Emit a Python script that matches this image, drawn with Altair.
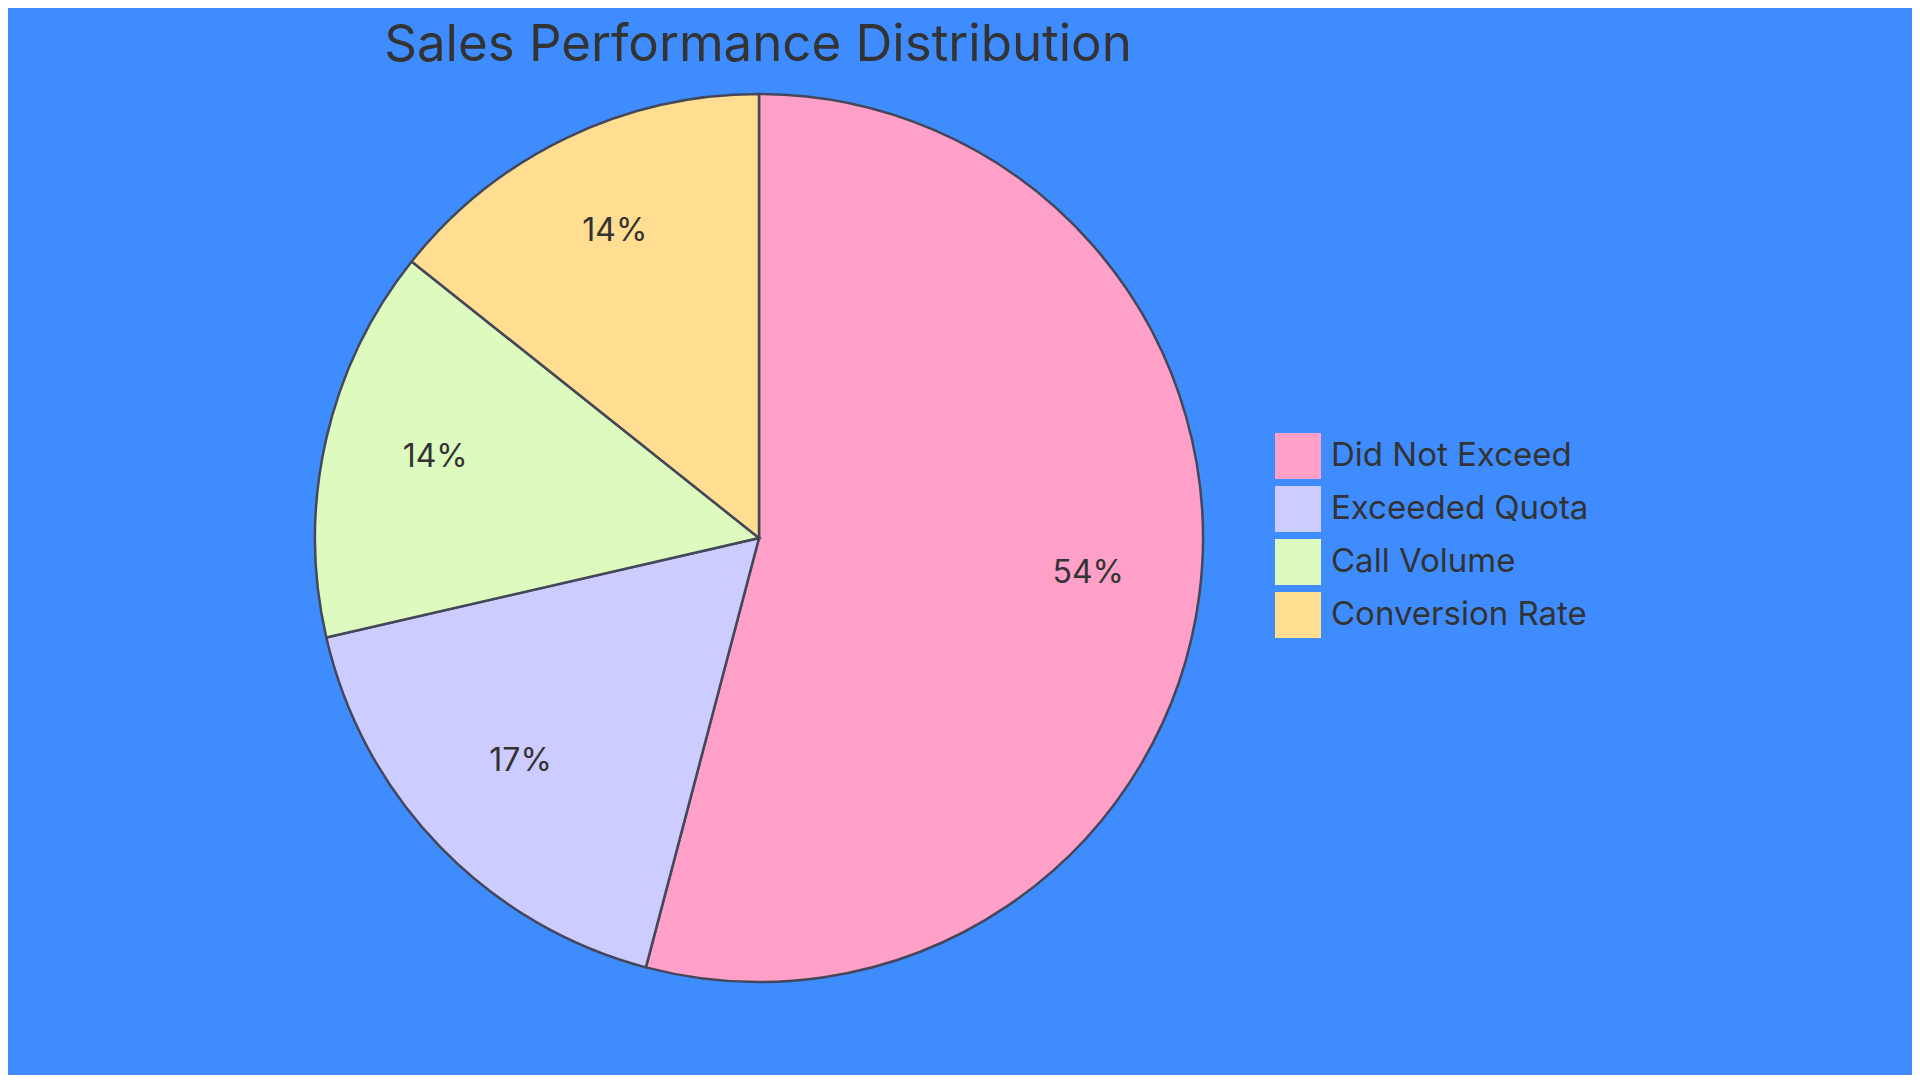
import altair as alt
import pandas as pd

# Slice data, in drawing order (clockwise from 12 o'clock)
categories = ["Did Not Exceed", "Exceeded Quota", "Call Volume", "Conversion Rate"]
values = [54.1, 17.3, 14.3, 14.3]
labels = ["54%", "17%", "14%", "14%"]
colors = ["#FFA0C8", "#CCCCFF", "#DDFBBE", "#FFDE92"]
title = "Sales Performance Distribution"

BG = "#3F8CFF"
INK = "#333333"
EDGE = "#44475A"
FONT = "Inter"

df = pd.DataFrame({"category": categories, "value": values, "label": labels, "idx": range(len(categories))})

# pie centre and radius in plot coordinates (page minus the 8px margin)
CX, CY, R = 751, 530, 444

base = alt.Chart(df).encode(
    theta=alt.Theta("value:Q", stack=True),
    order=alt.Order("idx:O"),
)

pie = base.mark_arc(radius=R, stroke=EDGE, strokeWidth=2.5).encode(
    x=alt.value(CX),
    y=alt.value(CY),
    color=alt.Color(
        "category:N",
        scale=alt.Scale(domain=categories, range=colors),
        sort=categories,
        legend=alt.Legend(
            title=None,
            orient="none",
            legendX=1267,
            legendY=425,
            symbolType="square",
            symbolSize=2116,
            symbolStrokeWidth=0,
            symbolOpacity=1,
            labelFontSize=33,
            labelFont=FONT,
            labelColor=INK,
            labelOffset=10,
            labelLimit=500,
            rowPadding=7,
            padding=0,
        ),
    ),
)

text = base.mark_text(radius=332, dy=-8, fontSize=32, font=FONT, color=INK).encode(
    x=alt.value(CX),
    y=alt.value(CY),
    text="label:N",
)

# chart heading drawn as a text mark so it sits inside the fixed-size canvas
heading = (
    alt.Chart(pd.DataFrame({"t": [title]}))
    .mark_text(fontSize=51, font=FONT, color=INK, baseline="alphabetic", align="center")
    .encode(x=alt.value(750), y=alt.value(53), text="t:N")
)

chart = (
    alt.layer(pie, text, heading)
    .properties(
        width=1904,
        height=1067,
        autosize=alt.AutoSizeParams(type="none"),
        padding=0,
        background=BG,
    )
    .configure_view(stroke=None)
)

chart.save("out.html", embed_options={"renderer": "svg", "actions": False})
